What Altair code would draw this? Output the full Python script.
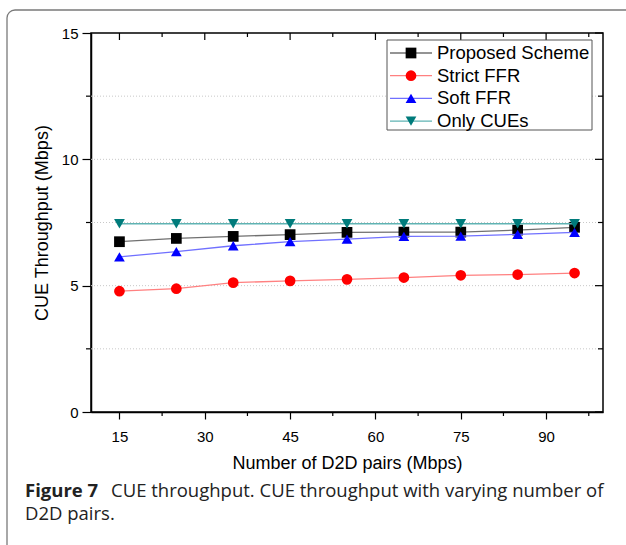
import altair as alt
import pandas as pd

# ---- data ----
pairs = [15, 25, 35, 45, 55, 65, 75, 85, 95]
proposed = [6.74, 6.87, 6.95, 7.02, 7.11, 7.12, 7.12, 7.20, 7.31]
strict_ffr = [4.78, 4.88, 5.12, 5.19, 5.25, 5.32, 5.41, 5.44, 5.50]
soft_ffr = [6.14, 6.35, 6.58, 6.74, 6.84, 6.95, 6.96, 7.03, 7.11]
only_cues = [7.45, 7.45, 7.45, 7.45, 7.45, 7.45, 7.45, 7.45, 7.45]

series_names = ["Proposed Scheme", "Strict FFR", "Soft FFR", "Only CUEs"]
marker_colors = ["#000000", "#ff0000", "#0000ff", "#007b7b"]
line_colors = ["#707070", "#ff8080", "#7070ff", "#5fb3b3"]
shapes = ["square", "circle", "triangle-up", "triangle-down"]

x_major = [15, 30, 45, 60, 75, 90]
x_minor = [22.5, 37.5, 52.5, 67.5, 82.5, 97.5]
y_major = [0, 5, 10, 15]
y_minor = [2.5, 7.5, 12.5]
y_grid = [2.5, 5, 7.5, 10, 12.5]

x_title = "Number of D2D pairs (Mbps)"
y_title = "CUE Throughput (Mbps)"
caption_bold = "Figure 7"
caption_rest = "CUE throughput. CUE throughput with varying number of"
caption_line2 = "D2D pairs."

# ---- tables ----
rows = []
for name, vals in zip(series_names, [proposed, strict_ffr, soft_ffr, only_cues]):
    for x, v in zip(pairs, vals):
        rows.append({"series": name, "pairs": x, "value": v})
df = pd.DataFrame(rows)

W, H = 512, 379
FONT = "Liberation Sans"
CAP_FONT = "Open Sans"

xs = alt.Scale(domain=[10, 100], nice=False, zero=False)
ys = alt.Scale(domain=[0, 15], nice=False)
line_color_scale = alt.Scale(domain=series_names, range=line_colors)
marker_color_scale = alt.Scale(domain=series_names, range=marker_colors)
shape_scale = alt.Scale(domain=series_names, range=shapes)

x_axis = alt.Axis(
    values=x_major, title=x_title, grid=False, tickSize=7, tickWidth=1.2,
    tickColor="black", domainColor="black", domainWidth=1.5,
    labelFont=FONT, labelFontSize=15, labelColor="black", labelPadding=10,
    titleFont=FONT, titleFontSize=18, titleFontWeight="normal", titleColor="black",
    titlePadding=10)
y_axis = alt.Axis(
    values=y_major, title=y_title, grid=False, tickSize=9, tickWidth=1.2,
    tickColor="black", domainColor="black", domainWidth=1.5,
    labelFont=FONT, labelFontSize=15, labelColor="black", labelPadding=4,
    titleFont=FONT, titleFontSize=18, titleFontWeight="normal", titleColor="black",
    titlePadding=10)


def X(field):
    return alt.X(field, scale=xs, axis=x_axis)


def Y(field):
    return alt.Y(field, scale=ys, axis=y_axis)


one = pd.DataFrame({"k": [0]})

# outer rounded figure frame
frame = alt.Chart(one).mark_rect(
    fill=None, stroke="#7a7a7a", strokeWidth=1.3, cornerRadius=8
).encode(x=alt.value(-84), x2=alt.value(660), y=alt.value(-23), y2=alt.value(620))

# gridlines
grid = alt.Chart(pd.DataFrame({"value": y_grid})).mark_rule(
    color="#c8c8c8", strokeDash=[1, 2], strokeWidth=1
).encode(y=Y("value:Q"), x=alt.value(0), x2=alt.value(W))

# minor ticks bottom (outward), top ticks (inward), left minor, right ticks (inward)
xminor_bottom = alt.Chart(pd.DataFrame({"pairs": x_minor})).mark_rule(color="black", strokeWidth=1.2).encode(
    x=X("pairs:Q"), y=alt.value(H), y2=alt.value(H + 4))
xtop_major = alt.Chart(pd.DataFrame({"pairs": x_major})).mark_rule(color="black", strokeWidth=1.2).encode(
    x=X("pairs:Q"), y=alt.value(0), y2=alt.value(7))
xtop_minor = alt.Chart(pd.DataFrame({"pairs": x_minor})).mark_rule(color="black", strokeWidth=1.2).encode(
    x=X("pairs:Q"), y=alt.value(0), y2=alt.value(4))
yminor_left = alt.Chart(pd.DataFrame({"value": y_minor})).mark_rule(color="black", strokeWidth=1.2).encode(
    y=Y("value:Q"), x=alt.value(0), x2=alt.value(-5))
yright_major = alt.Chart(pd.DataFrame({"value": y_major})).mark_rule(color="black", strokeWidth=1.2).encode(
    y=Y("value:Q"), x=alt.value(W), x2=alt.value(W - 8))
yright_minor = alt.Chart(pd.DataFrame({"value": y_minor})).mark_rule(color="black", strokeWidth=1.2).encode(
    y=Y("value:Q"), x=alt.value(W), x2=alt.value(W - 5))

layers = [frame, grid, xminor_bottom, xtop_major, xtop_minor,
          yminor_left, yright_major, yright_minor]

for name in series_names:
    sub = df[df["series"] == name]
    ln = alt.Chart(sub).mark_line(strokeWidth=1.3).encode(
        x=X("pairs:Q"), y=Y("value:Q"),
        color=alt.Color("series:N", scale=line_color_scale, legend=None),
    )
    pt = alt.Chart(sub).mark_point(filled=True, opacity=1, size=115).encode(
        x=X("pairs:Q"), y=Y("value:Q"),
        fill=alt.Fill("series:N", scale=marker_color_scale, legend=None),
        shape=alt.Shape("series:N", scale=shape_scale, legend=None),
    )
    layers += [ln, pt]

# legend (drawn by hand, one row per series)
leg_box = alt.Chart(one).mark_rect(fill="white", stroke="#555555", strokeWidth=1).encode(
    x=alt.value(296), x2=alt.value(501), y=alt.value(7), y2=alt.value(97))
layers.append(leg_box)
for i, name in enumerate(series_names):
    ry = 20 + i * 22.7
    row = pd.DataFrame({"series": [name]})
    layers.append(alt.Chart(row).mark_rule(strokeWidth=1.3).encode(
        y=alt.value(ry), x=alt.value(299), x2=alt.value(341),
        color=alt.Color("series:N", scale=line_color_scale, legend=None)))
    layers.append(alt.Chart(row).mark_point(filled=True, opacity=1, size=115).encode(
        y=alt.value(ry), x=alt.value(320),
        fill=alt.Fill("series:N", scale=marker_color_scale, legend=None),
        shape=alt.Shape("series:N", scale=shape_scale, legend=None)))
    layers.append(alt.Chart(row).mark_text(align="left", baseline="middle", font=FONT,
                                           fontSize=18.5, color="black").encode(
        y=alt.value(ry), x=alt.value(346), text="series:N"))

# caption
cap1 = alt.Chart(one).mark_text(align="left", baseline="alphabetic", font=CAP_FONT,
                                fontSize=18.5, fontWeight="bold", color="#222222").encode(
    x=alt.value(-66), y=alt.value(464), text=alt.value(caption_bold))
cap2 = alt.Chart(one).mark_text(align="left", baseline="alphabetic", font=CAP_FONT,
                                fontSize=18.5, color="#222222").encode(
    x=alt.value(20), y=alt.value(464), text=alt.value(caption_rest))
cap3 = alt.Chart(one).mark_text(align="left", baseline="alphabetic", font=CAP_FONT,
                                fontSize=18.5, color="#222222").encode(
    x=alt.value(-66), y=alt.value(487), text=alt.value(caption_line2))
layers += [cap1, cap2, cap3]

chart = alt.layer(*layers).properties(
    width=W, height=H,
    autosize=alt.AutoSizeParams(type="none"),
    padding={"left": 91, "top": 33, "right": 23, "bottom": 133},
    background="white",
).configure_view(stroke="black", strokeWidth=1.5)

chart.save("out.html", embed_options={"renderer": "svg", "actions": False})
